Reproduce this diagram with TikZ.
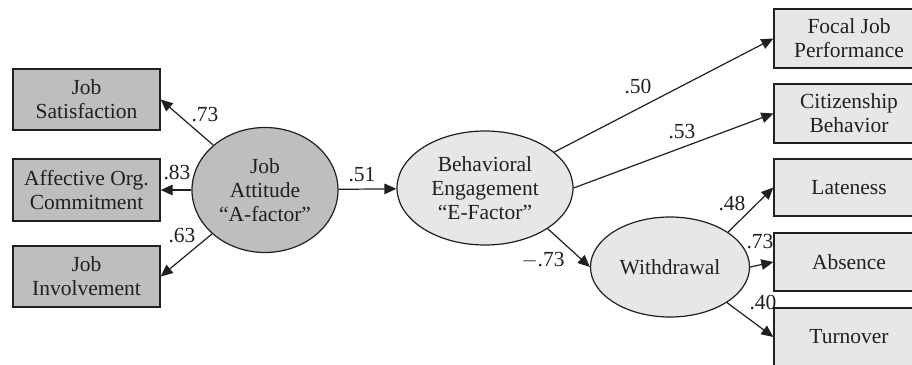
\documentclass[tikz,border=0pt]{standalone}
\usepackage{fontspec}
\setmainfont{Liberation Serif}
\usetikzlibrary{shapes.geometric,arrows.meta}
\definecolor{inkc}{HTML}{231F20}
\definecolor{darkfill}{HTML}{BCBEC0}
\definecolor{lightfill}{HTML}{E6E7E8}
\tikzset{
  txt/.style={font=\fontsize{21.5}{24}\selectfont, text=inkc, align=center},
  obsbox/.style={txt, rectangle, draw=inkc, line width=1.3pt, inner sep=0pt},
  latent/.style={txt, ellipse, draw=inkc, line width=1.2pt, inner sep=0pt},
  path/.style={draw=inkc, line width=1.2pt, -{Triangle[length=12pt,width=10.5pt]}},
  coef/.style={txt, inner sep=1pt}
}
\begin{document}
\begin{tikzpicture}[x=1pt,y=-1pt]
  \clip (0,0) rectangle (912,364);
  \fill[white] (0,0) rectangle (912,364);

  % indicators of the job attitude factor
  \node[obsbox, fill=darkfill, minimum width=147pt, minimum height=61pt] (js)  at (86.5,99.5) {Job\\Satisfaction};
  \node[obsbox, fill=darkfill, minimum width=147pt, minimum height=62pt] (aoc) at (86.5,190)  {Affective Org.\\Commitment};
  \node[obsbox, fill=darkfill, minimum width=147pt, minimum height=61pt] (ji)  at (86.5,276.5) {Job\\Involvement};

  % latent factors
  \node[latent, fill=darkfill,  minimum width=146pt, minimum height=125pt] (A) at (265,190) {Job\\Attitude\\``A-factor''};
  \node[latent, fill=lightfill, minimum width=176pt, minimum height=114pt] (E) at (485,188) {Behavioral\\Engagement\\``E-Factor''};
  \node[latent, fill=lightfill, minimum width=159pt, minimum height=100pt] (W) at (670,267) {Withdrawal};

  % outcomes
  \node[obsbox, fill=lightfill, minimum width=150pt, minimum height=59pt] (fjp)  at (849,38.5)  {Focal Job\\Performance};
  \node[obsbox, fill=lightfill, minimum width=150pt, minimum height=59pt] (cb)   at (849,113.5) {Citizenship\\Behavior};
  \node[obsbox, fill=lightfill, minimum width=150pt, minimum height=57pt] (late) at (849,187.5) {Lateness};
  \node[obsbox, fill=lightfill, minimum width=150pt, minimum height=58pt] (abs)  at (849,262)   {Absence};
  \node[obsbox, fill=lightfill, minimum width=150pt, minimum height=58pt] (turn) at (849,337)   {Turnover};

  % paths
  \draw[path] (A) -- (js.east);
  \draw[path] (A) -- (aoc.east);
  \draw[path] (A) -- (ji.east);
  \draw[path] (A) -- (E);
  \draw[path] (E) -- (fjp.west);
  \draw[path] (E.east) -- (cb.west);
  \draw[path] (E.-33) -- (W.west);
  \draw[path] (W.31) -- (late.west);
  \draw[path] (W.east) -- (abs.west);
  \draw[path] (W.-32) -- (turn.west);

  % coefficients
  \node[coef] (c1)  at (205,115) {.73};
  \node[coef] (c2)  at (177,172) {.83};
  \node[coef] (c3)  at (182,236) {.63};
  \node[coef] (c4)  at (362,175) {.51};
  \node[coef] (c5)  at (638,87)  {.50};
  \node[coef] (c6)  at (682,132) {.53};
  \node[coef] (c7)  at (543,260) {$-$.73};
  \node[coef] (c8)  at (732,203) {.48};
  \node[coef] (c9)  at (760,242) {.73};
  \node[coef] (c10) at (763,302) {.40};
\end{tikzpicture}
\end{document}
